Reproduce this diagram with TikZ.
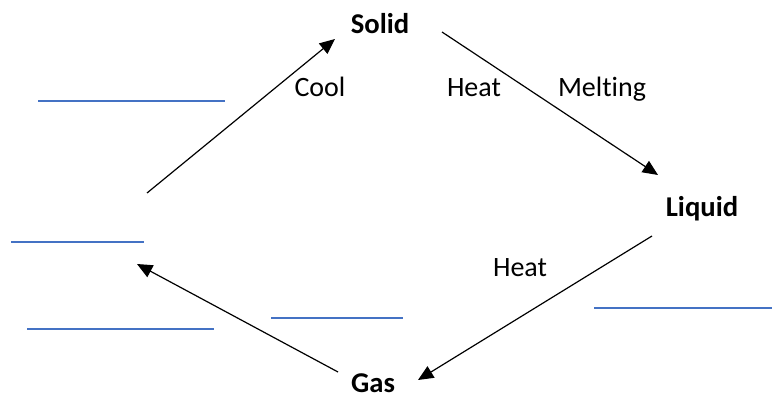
\documentclass[tikz,border=0pt]{standalone}
\usepackage{fontspec}
\setmainfont{Carlito}[Ligatures=NoCommon]
\usetikzlibrary{arrows.meta}
\begin{document}
\begin{tikzpicture}[x=0.75pt,y=-0.75pt,
  state/.style={font=\fontsize{21.5}{26}\selectfont\bfseries, inner sep=0pt, anchor=base},
  lbl/.style={font=\fontsize{21}{25}\selectfont, inner sep=0pt, anchor=base},
  arr/.style={draw=black, line width=0.9pt, -{Triangle[length=11.5pt,width=10pt]}},
  blank/.style={draw=bluel, line width=1.1pt}]
\definecolor{bluel}{HTML}{4472C4}
\useasboundingbox (0,0) rectangle (773,398);
\node[state] (solid) at (380,34) {Solid};
\node[state] (liquid) at (702,217) {Liquid};
\node[state] (gas) at (373,392) {Gas};
\node[lbl] (cool) at (320,97) {Cool};
\node[lbl] (heat1) at (474,97) {Heat};
\node[lbl] (melt) at (602,97) {Melting};
\node[lbl] (heat2) at (520,277) {Heat};
\coordinate (c1s) at (147,193);
\coordinate (c1e) at (335,39);
\coordinate (c2s) at (442,32);
\coordinate (c2e) at (658,175);
\coordinate (c3s) at (652,236);
\coordinate (c3e) at (418,380);
\coordinate (c4s) at (338,372);
\coordinate (c4e) at (137,264);
\draw[arr] (c1s) -- (c1e);
\draw[arr] (c2s) -- (c2e);
\draw[arr] (c3s) -- (c3e);
\draw[arr] (c4s) -- (c4e);
\coordinate (b1a) at (38,101); \coordinate (b1b) at (225,101);
\coordinate (b2a) at (11,242); \coordinate (b2b) at (144,242);
\coordinate (b3a) at (27,329); \coordinate (b3b) at (214,329);
\coordinate (b4a) at (271,318); \coordinate (b4b) at (403,318);
\coordinate (b5a) at (594,308); \coordinate (b5b) at (772,308);
\draw[blank] (b1a) -- (b1b);
\draw[blank] (b2a) -- (b2b);
\draw[blank] (b3a) -- (b3b);
\draw[blank] (b4a) -- (b4b);
\draw[blank] (b5a) -- (b5b);
\end{tikzpicture}
\end{document}
